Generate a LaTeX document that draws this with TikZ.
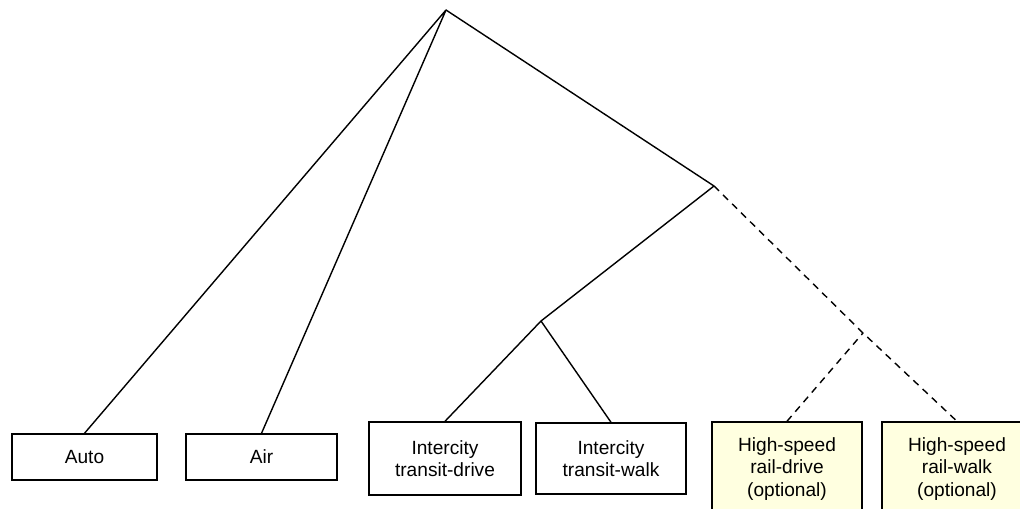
\documentclass[tikz,border=0pt]{standalone}
\usepackage{fontspec}
\setmainfont{Liberation Sans}
\usepackage{xcolor}
\usepackage{tikz}
\definecolor{optfill}{RGB}{255,255,224}

\begin{document}
\begin{tikzpicture}[x=0.025cm,y=-0.025cm,
    alt/.style={draw,line width=1pt,fill=white,align=center,inner sep=0pt,
      font=\fontsize{13.6}{16}\selectfont},
    optalt/.style={alt,fill=optfill},
    nest/.style={line width=1pt,line join=round},
    optnest/.style={nest,dash pattern=on 5pt off 4pt}]
    \clip (0,0) rectangle (1020,508);
    \coordinate (root) at (446,10);
    \coordinate (transit) at (714,186);
    \coordinate (ict) at (541,321);
    \coordinate (hsr) at (863,333);
    \node[alt,minimum width=3.625cm,minimum height=1.15cm] (auto) at (84.5,457) {Auto};
    \node[alt,minimum width=3.775cm,minimum height=1.15cm] (air) at (261.5,457) {Air};
    \node[alt,minimum width=3.8cm,minimum height=1.825cm] (ictdrive) at (445,458.5) {Intercity\\transit-drive};
    \node[alt,minimum width=3.75cm,minimum height=1.775cm] (ictwalk) at (611,458.5) {Intercity\\transit-walk};
    \node[optalt,minimum width=3.75cm,minimum height=2.35cm] (hsrdrive) at (787,469) {High-speed\\rail-drive\\(optional)};
    \node[optalt,minimum width=3.75cm,minimum height=2.35cm] (hsrwalk) at (957,469) {High-speed\\rail-walk\\(optional)};
    \draw[nest] (auto.north) -- (root) -- (air.north);
    \draw[nest] (root) -- (transit) -- (ict);
    \draw[nest] (ictdrive.north) -- (ict) -- (ictwalk.north);
    \draw[optnest] (transit) -- (hsr) -- (hsrwalk.north);
    \draw[optnest] (hsrdrive.north) -- (hsr);
  \end{tikzpicture}
\end{document}
